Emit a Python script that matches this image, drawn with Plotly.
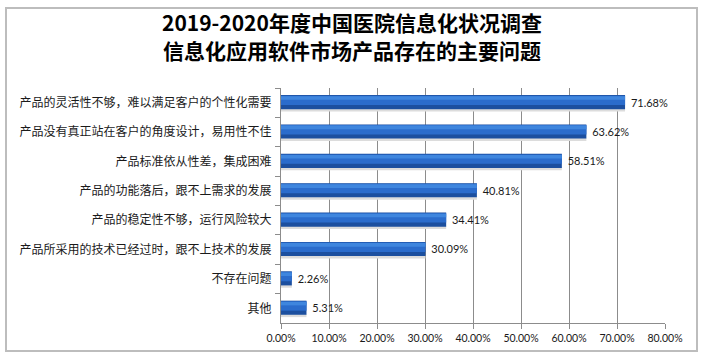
import plotly.graph_objects as go

categories = [
    "产品的灵活性不够，难以满足客户的个性化需要",
    "产品没有真正站在客户的角度设计，易用性不佳",
    "产品标准依从性差，集成困难",
    "产品的功能落后，跟不上需求的发展",
    "产品的稳定性不够，运行风险较大",
    "产品所采用的技术已经过时，跟不上技术的发展",
    "不存在问题",
    "其他",
]
values = [0.7168, 0.6362, 0.5851, 0.4081, 0.3441, 0.3009, 0.0226, 0.0531]
tick_vals = [0, 0.1, 0.2, 0.3, 0.4, 0.5, 0.6, 0.7, 0.8]
title_lines = ["2019-2020年度中国医院信息化状况调查", "信息化应用软件市场产品存在的主要问题"]

W, H = 704, 359
L, R, T, B = 281, 39, 88, 36
pw, ph = W - L - R, H - T - B

NUMFONT = "Lato, Open Sans, sans-serif"

fig = go.Figure()
# soft shadow under bars
fig.add_trace(go.Bar(
    y=categories, x=values, orientation="h", width=0.1, offset=0.2,
    marker=dict(color="#dcdcdc", line=dict(width=0)), hoverinfo="skip",
))
# dark base of bar
fig.add_trace(go.Bar(
    y=categories, x=values, orientation="h", width=0.48, offset=-0.26,
    marker=dict(color="#1c4f9f", line=dict(width=0)),
    text=[f" {v*100:.2f}%" for v in values], textposition="outside",
    textfont=dict(family=NUMFONT, size=11, color="#1a1a1a"),
    cliponaxis=False, hoverinfo="skip",
))
# medium face
fig.add_trace(go.Bar(
    y=categories, x=values, orientation="h", width=0.32, offset=-0.24,
    marker=dict(color="#2b6ccc", line=dict(width=0)), hoverinfo="skip",
))
# highlight
fig.add_trace(go.Bar(
    y=categories, x=values, orientation="h", width=0.12, offset=-0.22,
    marker=dict(color="#3f86de", line=dict(width=0)), hoverinfo="skip",
))

cx = (352 - L) / pw
annotations = [
    dict(text=title_lines[0], x=cx, xref="paper", y=(H - B - 22) / ph, yref="paper",
         xanchor="center", yanchor="middle", showarrow=False,
         font=dict(family="Noto Sans CJK SC", size=21, color="#000000", weight="bold")),
    dict(text=title_lines[1], x=cx, xref="paper", y=(H - B - 50) / ph, yref="paper",
         xanchor="center", yanchor="middle", showarrow=False,
         font=dict(family="Noto Sans CJK SC", size=21, color="#000000", weight="bold")),
]

fig.update_layout(
    width=W, height=H, barmode="overlay", showlegend=False,
    margin=dict(l=L, r=R, t=T, b=B),
    paper_bgcolor="white", plot_bgcolor="white",
    annotations=annotations,
    xaxis=dict(
        range=[0, 0.8], tickvals=tick_vals, tickformat=".2%",
        showgrid=True, gridcolor="#8c8c8c", gridwidth=1,
        showline=True, linecolor="#8c8c8c", ticks="outside", ticklen=5,
        tickcolor="#8c8c8c",
        tickfont=dict(family=NUMFONT, size=10.5, color="#1a1a1a"),
        zeroline=False, fixedrange=True,
    ),
    yaxis=dict(
        autorange="reversed", showline=True, linecolor="#8c8c8c",
        ticks="outside", ticklen=5, tickcolor="#8c8c8c", tickson="boundaries",
        tickfont=dict(family="Noto Sans CJK SC", size=12, color="#1a1a1a"),
        ticklabelstandoff=6,
        showgrid=False,
    ),
    shapes=[dict(
        type="rect", xref="paper", yref="paper",
        x0=(6 - L) / pw, x1=(697 - L) / pw,
        y0=-(351 - (H - B)) / ph, y1=((H - B) - 8) / ph,
        line=dict(color="#bdbdbd", width=2), fillcolor="rgba(0,0,0,0)",
        layer="above",
    )],
)

fig.write_html("out.html", config={"displayModeBar": False},
               post_script="document.body.style.margin='0';document.body.style.overflow='hidden';")
